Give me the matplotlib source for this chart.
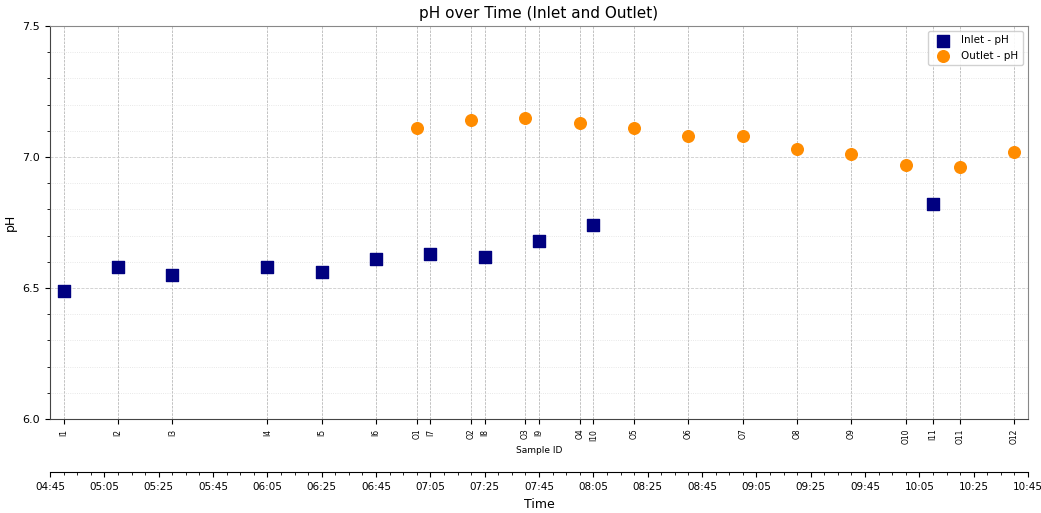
import pandas as pd
import matplotlib.pyplot as plt
import matplotlib.dates as mdates
import matplotlib.ticker as tck

inlet_ids = ['I1', 'I2', 'I3', 'I4', 'I5', 'I6', 'I7', 'I8', 'I9', 'I10', 'I11']
inlet_times = ['04:50', '05:10', '05:30', '06:05', '06:25', '06:45', '07:05', '07:25', '07:45', '08:05', '10:10']
inlet_ph = [6.49, 6.58, 6.55, 6.58, 6.56, 6.61, 6.63, 6.62, 6.68, 6.74, 6.82]

outlet_ids = ['O1', 'O2', 'O3', 'O4', 'O5', 'O6', 'O7', 'O8', 'O9', 'O10', 'O11', 'O12']
outlet_times = ['07:00', '07:20', '07:40', '08:00', '08:20', '08:40', '09:00', '09:20', '09:40', '10:00', '10:20', '10:40']
outlet_ph = [7.11, 7.14, 7.15, 7.13, 7.11, 7.08, 7.08, 7.03, 7.01, 6.97, 6.96, 7.02]

day = '2024-01-01 '
t_in = pd.to_datetime([day + t for t in inlet_times])
t_out = pd.to_datetime([day + t for t in outlet_times])
t_start = pd.Timestamp(day + '04:45')
t_end = pd.Timestamp(day + '10:45')

fig = plt.figure(figsize=(10.41, 5.13), dpi=100)
ax = fig.add_axes([50 / 1041, 1 - 419 / 513, 978 / 1041, 393 / 513])

ax.scatter(t_in, inlet_ph, marker='s', s=70, color='navy', label='Inlet - pH', zorder=3)
ax.scatter(t_out, outlet_ph, marker='o', s=70, color='darkorange', label='Outlet - pH', zorder=3)

ax.set_xlim(t_start, t_end)
ax.set_ylim(6.0, 7.5)
ax.yaxis.set_major_locator(tck.MultipleLocator(0.5))
ax.yaxis.set_minor_locator(tck.MultipleLocator(0.1))
ax.yaxis.set_major_formatter(tck.FormatStrFormatter('%.1f'))
ax.tick_params(axis='y', labelsize=8)

# sample id ticks on the main axis
all_t = list(t_in) + list(t_out)
all_ids = inlet_ids + outlet_ids
order = sorted(range(len(all_t)), key=lambda i: all_t[i])
ax.set_xticks([mdates.date2num(all_t[i]) for i in order])
ax.set_xticklabels([all_ids[i] for i in order], rotation=90, fontsize=5.5)
ax.set_xlabel('Sample ID', fontsize=6.5, labelpad=1)

ax.grid(axis='x', which='major', linestyle='--', linewidth=0.5, color='#aaaaaa')
ax.grid(axis='y', which='major', linestyle='--', linewidth=0.6, color='#cccccc')
ax.grid(axis='y', which='minor', linestyle=':', linewidth=0.6, color='#e0e0e0')
ax.set_axisbelow(True)
for side in ['top', 'right']:
    ax.spines[side].set_color('#888888')
ax.spines['left'].set_color('#444444')
ax.spines['bottom'].set_color('#444444')

ax.set_ylabel('pH', fontsize=9)
ax.set_title('pH over Time (Inlet and Outlet)', fontsize=11)
ax.legend(loc='upper right', fontsize=7.5, framealpha=0.9)

# time axis below
ax2 = ax.twiny()
ax2.set_xlim(ax.get_xlim())
ax2.xaxis.set_ticks_position('bottom')
ax2.xaxis.set_label_position('bottom')
ax2.spines['bottom'].set_position(('outward', 38))
for side in ['top', 'left', 'right']:
    ax2.spines[side].set_visible(False)
ax2.xaxis.set_major_locator(mdates.MinuteLocator(byminute=[5, 25, 45]))
ax2.xaxis.set_minor_locator(mdates.MinuteLocator(byminute=range(0, 60, 5)))
ax2.xaxis.set_major_formatter(mdates.DateFormatter('%H:%M'))
ax2.tick_params(axis='x', labelsize=7.5)
ax2.set_xlabel('Time', fontsize=9, labelpad=5)

fig.savefig('out.png', dpi=100)
